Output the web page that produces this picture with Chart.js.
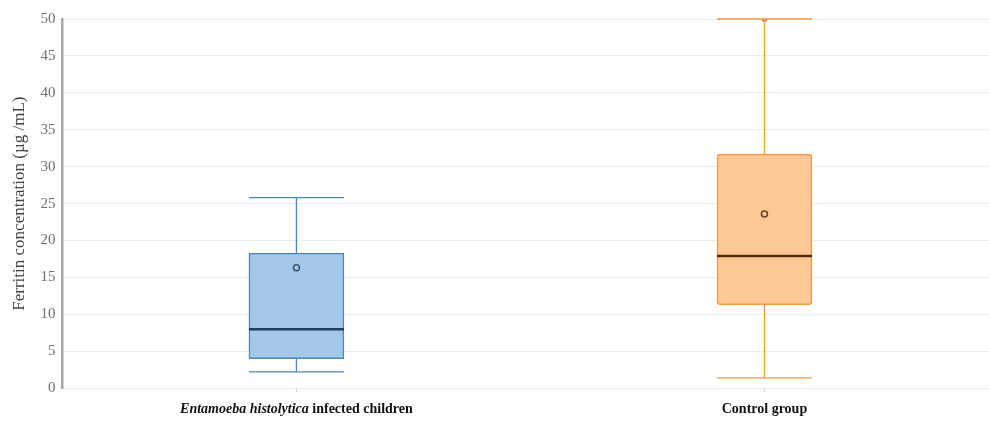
<!DOCTYPE html>
<html>
<head>
<meta charset="utf-8">
<script src="https://cdn.jsdelivr.net/npm/chart.js@4/dist/chart.umd.min.js"></script>
<style>
  body { margin: 0; background: #fff; overflow: hidden; }
  #wrap { width: 989px; height: 423px; overflow: hidden; }
</style>
</head>
<body>
<div id="wrap"><canvas id="chart-box" width="1004" height="423"></canvas></div>
<script>
// groups and their five-number summaries
const categories = ['Entamoeba histolytica infected children', 'Control group'];
const italicPrefix = ['Entamoeba histolytica', ''];
const minValues = [2.2, 1.4];
const q1Values = [4.0, 11.3];
const medianValues = [8.0, 17.9];
const q3Values = [18.3, 31.7];
const maxValues = [25.8, 50];
const meanValues = [16.3, 23.6];
const outlierValues = [null, 50];
const yTicks = [0, 5, 10, 15, 20, 25, 30, 35, 40, 45, 50];

const fillColors = ['#a2c7e7', '#fdc896'];
const lineColors = ['#4b87bd', '#f39a45'];
const medianColors = ['#1d3f5e', '#4a2c10'];
const meanColors = ['#3f5366', '#6b4020'];

const serif = '"Liberation Serif", "Times New Roman", serif';

const boxPlugin = {
  id: 'boxParts',
  afterDatasetsDraw(chart) {
    const ctx = chart.ctx;
    const y = chart.scales.y;
    const meta = chart.getDatasetMeta(0);
    ctx.save();
    meta.data.forEach((bar, i) => {
      const x = bar.x;
      const half = bar.width / 2;
      ctx.strokeStyle = lineColors[i];
      ctx.lineWidth = 1.3;
      ctx.beginPath();
      ctx.moveTo(x, y.getPixelForValue(q3Values[i]));
      ctx.lineTo(x, y.getPixelForValue(maxValues[i]));
      ctx.moveTo(x, y.getPixelForValue(q1Values[i]));
      ctx.lineTo(x, y.getPixelForValue(minValues[i]));
      ctx.moveTo(x - half, y.getPixelForValue(maxValues[i]));
      ctx.lineTo(x + half, y.getPixelForValue(maxValues[i]));
      ctx.moveTo(x - half, y.getPixelForValue(minValues[i]));
      ctx.lineTo(x + half, y.getPixelForValue(minValues[i]));
      ctx.stroke();
      ctx.strokeStyle = medianColors[i];
      ctx.lineWidth = 2.5;
      ctx.beginPath();
      ctx.moveTo(x - half, y.getPixelForValue(medianValues[i]));
      ctx.lineTo(x + half, y.getPixelForValue(medianValues[i]));
      ctx.stroke();
    });
    ctx.restore();
  },
  afterDraw(chart) {
    // category labels with the italic genus/species part
    const ctx = chart.ctx;
    const xs = chart.scales.x;
    const ty = chart.chartArea.bottom + 21;
    ctx.save();
    ctx.fillStyle = '#111';
    ctx.textBaseline = 'middle';
    ctx.textAlign = 'left';
    categories.forEach((label, i) => {
      const it = italicPrefix[i];
      const rest = label.slice(it.length);
      ctx.font = 'italic bold 14px ' + serif;
      const w1 = ctx.measureText(it).width;
      ctx.font = 'bold 14px ' + serif;
      const w2 = ctx.measureText(rest).width;
      let x = xs.getPixelForValue(i) - (w1 + w2) / 2;
      ctx.font = 'italic bold 14px ' + serif;
      ctx.fillText(it, x, ty);
      ctx.font = 'bold 14px ' + serif;
      ctx.fillText(rest, x + w1, ty);
    });
    ctx.restore();
  }
};

new Chart(document.getElementById('chart-box'), {
  type: 'bar',
  data: {
    labels: categories,
    datasets: [
      {
        label: 'IQR',
        data: q1Values.map((q, i) => [q, q3Values[i]]),
        backgroundColor: fillColors,
        borderColor: lineColors,
        borderWidth: 1.5,
        borderSkipped: false,
        borderRadius: [0, 3],
        barThickness: 95,
        order: 3
      },
      {
        type: 'line',
        label: 'Mean',
        data: meanValues,
        showLine: false,
        pointRadius: 3,
        pointBorderWidth: 1.5,
        pointBackgroundColor: fillColors,
        pointBorderColor: meanColors,
        order: 1
      },
      {
        type: 'line',
        label: 'Outliers',
        data: outlierValues,
        showLine: false,
        pointRadius: 2.5,
        pointBackgroundColor: lineColors,
        pointBorderColor: '#b86a20',
        order: 2
      }
    ]
  },
  options: {
    responsive: false,
    animation: false,
    layout: { padding: { top: 19, right: 0, left: 9, bottom: 0 } },
    scales: {
      x: {
        offset: true,
        grid: { display: true, drawOnChartArea: false, offset: false, tickLength: 4, color: '#d8d8d8' },
        border: { display: false },
        ticks: { color: 'rgba(0,0,0,0)', font: { family: serif, size: 14, weight: 'bold' }, padding: 7 }
      },
      y: {
        min: 0,
        max: 50,
        afterBuildTicks(scale) { scale.ticks = yTicks.map(v => ({ value: v })); },
        grid: { color: '#ececec', tickLength: 0 },
        border: { display: true, color: '#a8a8a8', width: 2.5 },
        ticks: { color: '#707070', font: { family: serif, size: 15 }, padding: 7 },
        title: {
          display: true,
          text: 'Ferritin concentration (µg /mL)',
          color: '#444',
          font: { family: serif, size: 17 },
          padding: { top: 0, bottom: 4 }
        }
      }
    },
    plugins: {
      legend: { display: false },
      tooltip: { enabled: false }
    }
  },
  plugins: [boxPlugin]
});
</script>
</body>
</html>
